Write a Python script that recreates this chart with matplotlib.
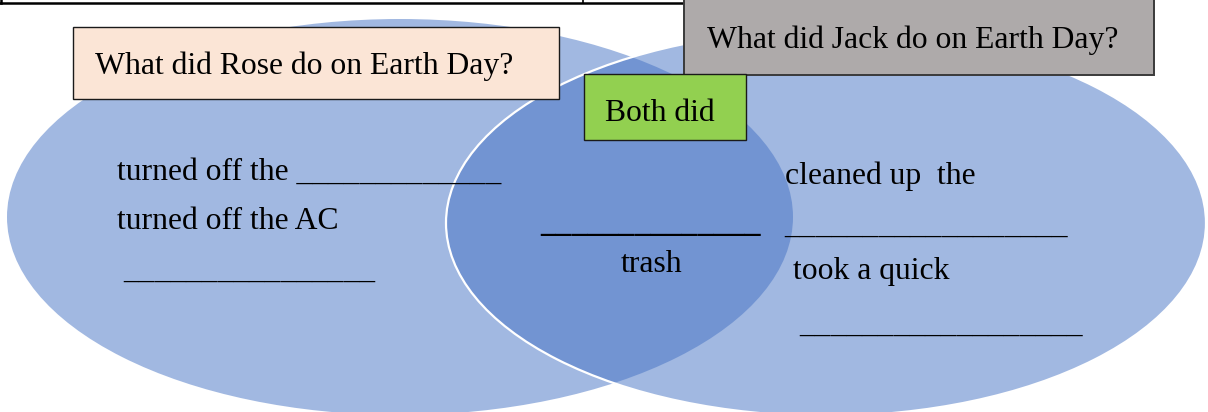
import matplotlib.pyplot as plt
from matplotlib.patches import Ellipse, Rectangle

# text content of the diagram
rose_title = "What did Rose do on Earth Day?"
jack_title = "What did Jack do on Earth Day?"
both_title = "Both did"
rose_items = ["turned off the " + "_" * 13, "turned off the AC", "_" * 16]
both_items = ["_" * 14, "trash"]
jack_items = ["cleaned up  the", "_" * 18, "took a quick", "_" * 18]

plt.rcParams['font.family'] = ['Liberation Serif', 'DejaVu Serif']
FS = 22.8
blue = (0x44 / 255, 0x72 / 255, 0xC4 / 255, 0.5)

fig = plt.figure(figsize=(12.08, 4.12), dpi=100)
ax = fig.add_axes([0, 0, 1, 1])
ax.set_xlim(0, 1208)
ax.set_ylim(412, 0)
ax.axis('off')

# table border peeking at the top
ax.plot([0, 690], [2.5, 2.5], color='black', lw=1.8, zorder=1)
ax.plot([1, 1], [0, 3], color='black', lw=1.8, zorder=1)
ax.plot([583, 583], [0, 3], color='black', lw=1.2, zorder=1)

# venn circles
ax.add_patch(Ellipse((400, 217), 786, 396, facecolor=blue, edgecolor='none', zorder=2))
ax.add_patch(Ellipse((826, 223), 760, 386, facecolor=blue, edgecolor='white', lw=1.6, zorder=3))

# header boxes
ax.add_patch(Rectangle((73, 27), 486, 72, facecolor='#FBE5D6', edgecolor='#1a1a1a', lw=1.0, zorder=4))
ax.text(95, 74, rose_title, fontsize=FS, va='baseline', zorder=5)

ax.add_patch(Rectangle((684, -5), 470, 80, facecolor='#AEAAAA', edgecolor='#3a3a3a', lw=1.4, zorder=4))
ax.text(707, 48, jack_title, fontsize=FS, va='baseline', zorder=5)

ax.add_patch(Rectangle((584, 74), 162, 66, facecolor='#92D050', edgecolor='#1a1a1a', lw=1.0, zorder=6))
ax.text(605, 121, both_title, fontsize=FS, va='baseline', zorder=7)

# left side
ax.text(117, 180, rose_items[0], fontsize=FS, va='baseline', zorder=5)
ax.text(117, 229, rose_items[1], fontsize=FS, va='baseline', zorder=5)
ax.text(123, 278, rose_items[2], fontsize=FS, va='baseline', zorder=5)

# middle
ax.text(540, 232, both_items[0], fontsize=FS, fontweight='bold', va='baseline', zorder=5)
ax.text(652, 272, both_items[1], fontsize=FS, ha='center', va='baseline', zorder=5)

# right side
ax.text(785, 184, jack_items[0], fontsize=FS, va='baseline', zorder=5)
ax.text(784, 233, jack_items[1], fontsize=FS, va='baseline', zorder=5)
ax.text(793, 279, jack_items[2], fontsize=FS, va='baseline', zorder=5)
ax.text(799, 332, jack_items[3], fontsize=FS, va='baseline', zorder=5)

fig.savefig('out.png', dpi=100)
